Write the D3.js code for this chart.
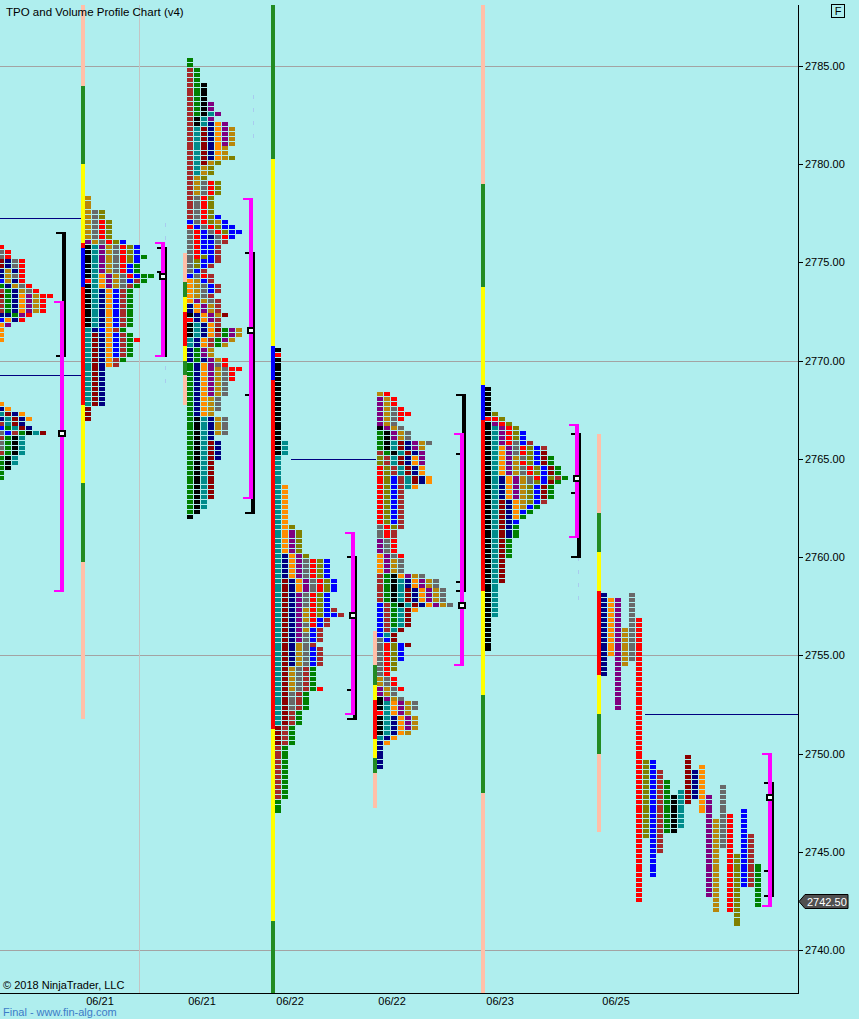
<!DOCTYPE html>
<html><head><meta charset="utf-8">
<script src="https://cdn.jsdelivr.net/npm/d3@7"></script>
<style>
html,body{margin:0;padding:0;background:#AFEEEE;}
svg{display:block;font-family:Arial,"Liberation Sans",sans-serif;}
</style></head>
<body><svg id="chart" width="859" height="1019"></svg>
<script>
// ---------------- DATA ----------------
const priceTicks = [2740, 2745, 2750, 2755, 2760, 2765, 2770, 2775, 2780, 2785];
const gridPrices = [2740, 2755, 2770, 2785];
const dateLabels = ["06/21", "06/21", "06/22", "06/22", "06/23", "06/25"];
// session start, in TPO-column units along the time axis
const sessionStart = [-0.29, 12.14, 26.71, 39.29, 53.86, 69.29, 85.86];
const labelSessions = [1, 2, 3, 4, 5, 6];
const gridTimes = [19.86];

// TPO letters per price row (top price, rows going down by one tick of 0.25)
const profileA = {top: 2775.75, rows: ["r","sr","sr","dnsr","dnsr","nynr","nysr","uynr","gnysr","bgnysr","dgnopyrr","bgnopyr","bgnopyr","bgnopyr","nngpr","uonr","op","o","o","o",
 "","","","","","","","","","","","",
 "o","no","tdno","ntdno","btdn","ugtdn","subgktd","bgkt","sgkt","sgkt","bgkt","gkt","gkt","gk","g","g"]};
const profileB = {top: 2778.25, rows: ["y","y","y","ysv","ysv","ysrv","ysrv","ysrv","ysrv","pysrvu","ktpysrvu","ktpysrvu","ktpysrvug","ktpysrvu","ktpysrug","ktpysrug","ktopysrugg","rtopysubg","ktopysbg",
 "ktnoubg","ktnoubg","ktnoubg","ktnoubg","ktnoubg","ktnoubg","ktnoubg","ktnoubg","tnuobg","tdnoubg","tdnoubgr","tdnoubg","tdnoubg","tdnoubg","tdnobg","tdnob",
 "tdn","tdn","tdn","tdn","tdn","tdn","tdn","tdn","d","d","d"]};
const profileC = {top: 2785.25, rows: ["g","g","bg","bg","bg","bgk","bgk","bgk","bgk","bgkp","bgkp","bgktp","bktp","bktnop","btdnopy","btdnopy","btdnopy","btdnopy","btdnoy","btdnoy","btdnoyv","btdyv","btyv","btyv","byv","bysrv","bysrv","bysrv","bsrv",
 "bsrv","bsrv","bsrv","bsrvu",
 "usrvyu","rusrvuu","srusrvuu","srunsru","sruusb","sruub","sruub","srvub","svuub","svub","sub","usrb","oyub","oysub",
 "oysub","oysb","opysb","nopyb","nopyb","knopyd","rnopb","ktnob","ktnodgpy","ktnobgpy","tnobgpy","tnobgy","ngpy","ngpy","ngnpyr","gnopsr","gnopysrr","gnopysr","gnopysr","gnopys","gnopys","gnopys","gnoys","gnoys","gnoys","gnoy",
 "gktnys","gktnys","gktnys","gktnys","gktn","gktdn","gktdn","gktdn","gktdn","gktd","gktd","gktd","gktd","gktd","gktd","gktd","gktd","gkt","gkt","gk","k"]};
const profileD = {top: 2770.5, rows: ["k","r","k","k","k","k","k","k","k","k","k","k","k","k","k","k","k","k","k","kt","kt","kt","t","t","t","t","t","t",
 "to","to","to","to","to","to","to","to","tov","topv","topv","topv","topv","topv","tnopv",
 "tnopsrvu","tnopsrvu","tnopsrvu","tnopsrvu","tdnopsrvu","tdnopsrvu","tdnopsrvu","tdnpsrvu","tdnpsrvu","tdnpsrvu","tdnpyrvub","tdnpyrvuub","tdnpyrub","tdnpsrub","tdnpyub","tdnpsub","tdnpsub","tdnysb",
 "tdnysub","tdnysub","tdnysub","tdnysub","tdysbg","tdysbg","tdysbg","tdysbg","tdysbgr","tdsbg","tdsbg","tdsbg","tdsbg","tdbg","tdbg","tdbg","dbg","dbg","dbg","dbg",
 "bg","bg","bg","bg","bg","bg","bg","bg","bg","bg","bg","g","g","g"]};
const profileE = {top: 2768.25, rows: ["yr","pyr","pyr","pysr","pysrr","pysr","pys","kpys","gkpys","gkpys","gktdnpys","gktdnpy","bgktdnp","vbtdnop","vbtdnop","rvbtdno","rvbtdno","rvubtdno","rvubtdno","rvubto",
 "rvub","rvub","rvub","rvub","rvub","rvub","rvub","srvb","srb","srb",
 "psr","psr","psr","opsr","opys","opys","opys","bgkopys","bgktnopys","bgktnopys","bgktdnopys","bgktdnopys","bgktdnopys","ubgktdnopys","ubgtdo","ubgtd","ubgtd","ubgtd","ubtd","utd","sud","srvud",
 "srvu","srvu","srvu","srv","srv","sr","ysr","ysr","pysr","pys","kpys","ktopys","ktopys","rtopy","ktnopy","ktnopy","ktnopy","ktnoy","tno","no","n","n","n","n","n"]};
const profileF = {top: 2768.5, rows: ["k","k","k","k","k","kv","rrv","kprv","ktprv","ktprvu","ktprvu","ktprsub","ktopsrvub","ktopsrvud","ktopysvudg","ktopyrvudg","ktopysrvudg","ktopysrvudg","ktnopysruvbg","ktnopysvudg",
 "ktnopyvudg","ktnopyvudg","ktnopyvudg","ktdnoyvub","ktdnoyug","ktdnoug","ktdnog","ktdnu","ktdng","ktdng","ktdng",
 "ktdg","ktdg","ktdg","ktdg","ktd","ktd","ktd","ktd","ktd","kt","kt","kt","kt","kt","kt","kt","k","k","k","k","k","k","k"]};
// last session shown split: one column per period [letter, high, low]
const profileG = [["n",2758,2754],["o",2757.75,2755],["p",2757.75,2752.25],["y",2756.25,2754.5],["s",2758,2754.75],["r",2756.75,2742.5],
 ["v",2749.5,2745.75],["u",2749.5,2743.75],["b",2749,2745],["g",2748.5,2746],["k",2747.75,2746],["t",2748,2746.25],["d",2749.75,2747.5],
 ["n",2749,2747.75],["o",2749.25,2747],["p",2747.75,2742.75],["y",2746.5,2742],["s",2748.25,2745.25],["r",2746.75,2742],["v",2744.75,2741.25],
 ["u",2747,2743.25],["b",2745.75,2743.25],["g",2744.25,2742.25]];

// range bars: [segment kind, high, low]
const rangeB = [["P",2795,2784],["G",2784,2780],["Y",2780,2776],["R",2776,2775.75],["B",2775.75,2773.75],["R",2773.75,2767.75],["Y",2767.75,2763.75],["G",2763.75,2759.75],["P",2759.75,2751.75]];
const rangeC = [["P",2775.5,2774],["G",2774,2773.25],["Y",2773.25,2772.5],["R",2772.5,2770.75],["Y",2770.75,2770],["G",2770,2769.25],["P",2769.25,2767.75]];
const rangeD = [["G",2795,2780.25],["Y",2780.25,2770.75],["B",2770.75,2769],["R",2769,2751.25],["Y",2751.25,2741.5],["G",2741.5,2730]];
const rangeE = [["P",2756.25,2754.5],["G",2754.5,2753.5],["Y",2753.5,2752.75],["R",2752.75,2750.75],["Y",2750.75,2749.75],["G",2749.75,2749],["P",2749,2747.25]];
const rangeF = [["P",2795,2779],["G",2779,2773.75],["Y",2773.75,2768.75],["B",2768.75,2767],["R",2767,2758.25],["Y",2758.25,2753],["G",2753,2748],["P",2748,2730]];
const rangeG = [["P",2766.25,2762.25],["G",2762.25,2760.25],["Y",2760.25,2758.25],["R",2758.25,2754],["Y",2754,2752],["G",2752,2750],["P",2750,2746]];

// value areas: time position, TPO VA high/low/POC, volume VA high/low, marks
const vaTime = [8.57, 23.0, 35.57, 50.14, 65.71, 82.14, 109.71];
const tpoVA = [[2773,2758.25,2766.25],[2776,2770.25,2774.25],[2778.25,2763,2771.5],[2761.25,2752,2757],[2766.25,2754.5,2757.5],[2766.75,2761,2764],[2750,2742.25,2747.75]];
const volVA = [[2776.5,2770.25],[2775.75,2770.25],[2775.5,2762.25],[2760,2751.75],[2768.25,2758.25],[2766.25,2760],[2748.5,2742.75]];
const volMarks = [[],[2774.5],[2768.25],[2753.25],[2765.25,2758.75],[2763.25],[2744]];

// naked POC lines: [price, from, to]
const nakedPOC = [[2777.25,-1,11.57],[2769.25,-1,11.57],[2765,41.57,53.7],[2752,92.14,114]];
// faint volume marks: [time, high, low]
const faintMarks = [[36.14,2783.5,2781],[23.57,2777,2768.75],[82.57,2760,2757.75]];
const lastPrice = 2742.5;

// ---------------- STYLE ----------------
const tpoColors = {b:"#A52A2A", g:"#008000", k:"#000000", p:"#800080", t:"#008B8B", d:"#8B0000", n:"#000080", o:"#FF8C00", y:"#B8860B", v:"#808000", s:"#696969", r:"#FF0000", u:"#0000FF"};
const barColors = {P:"#FFBFA8", G:"#228B22", Y:"#FFFF00", R:"#FF0000", B:"#0000FF"};

const plotL = 0, plotR = 798, plotT = 5, plotB = 993;
const y = d3.scaleLinear().domain([2740, 2785]).range([950, 66]);
const x = d3.scaleLinear().domain([0, 114]).range([0, 798]);
const colW = x(1) - x(0);

const svg = d3.select("#chart");
svg.append("rect").attr("width", 859).attr("height", 1019).attr("fill", "#AFEEEE");
svg.append("defs").append("clipPath").attr("id", "clip").append("rect")
  .attr("x", plotL).attr("y", plotT).attr("width", plotR - plotL).attr("height", plotB - plotT);
const g = svg.append("g").attr("clip-path", "url(#clip)").attr("shape-rendering", "crispEdges");

// gridlines
g.selectAll(".hg").data(gridPrices).join("line")
  .attr("x1", plotL).attr("x2", plotR).attr("y1", d => Math.round(y(d)) + 0.5).attr("y2", d => Math.round(y(d)) + 0.5)
  .attr("stroke", "#A3A3A3").attr("stroke-width", 1);
g.selectAll(".vg").data(gridTimes).join("line")
  .attr("x1", d => Math.round(x(d)) + 0.5).attr("x2", d => Math.round(x(d)) + 0.5).attr("y1", plotT).attr("y2", plotB)
  .attr("stroke", "#C4C4C4").attr("stroke-width", 1);

// naked POCs
g.selectAll(".npoc").data(nakedPOC).join("line")
  .attr("x1", d => x(d[1])).attr("x2", d => x(d[2]))
  .attr("y1", d => Math.round(y(d[0])) + 0.5).attr("y2", d => Math.round(y(d[0])) + 0.5)
  .attr("stroke", "#000080").attr("stroke-width", 1);

// faint marks
g.selectAll(".faint").data(faintMarks).join("line")
  .attr("x1", d => Math.round(x(d[0])) + 0.5).attr("x2", d => Math.round(x(d[0])) + 0.5)
  .attr("y1", d => y(d[1])).attr("y2", d => y(d[2]))
  .attr("stroke", "#A9CBEF").attr("stroke-width", 1.5).attr("stroke-dasharray", "4,9");

// TPO blocks
function cellsFromRows(prof, start) {
  const out = [];
  prof.rows.forEach((str, i) => {
    const p = prof.top - i * 0.25;
    str.split("").forEach((c, j) => out.push({c, p, col: start + j}));
  });
  return out;
}
const packed = [[profileA,0],[profileB,1],[profileC,2],[profileD,3],[profileE,4],[profileF,5]];
let cells = [];
packed.forEach(([prof, si]) => { cells = cells.concat(cellsFromRows(prof, sessionStart[si])); });
profileG.forEach((per, j) => {
  for (let p = per[1]; p >= per[2] - 1e-9; p -= 0.25) cells.push({c: per[0], p, col: sessionStart[6] + j});
});
g.selectAll(".tpo").data(cells).join("rect")
  .attr("x", d => Math.round(x(d.col))).attr("y", d => Math.round(y(d.p) - 3))
  .attr("width", Math.round(colW) - 1).attr("height", 4)
  .attr("fill", d => tpoColors[d.c]);

// range bars
const ranges = [[rangeB,1],[rangeC,2],[rangeD,3],[rangeE,4],[rangeF,5],[rangeG,6]];
ranges.forEach(([segs, si]) => {
  const x0 = Math.round(x(sessionStart[si]));
  g.selectAll(null).data(segs).join("rect")
    .attr("x", x0 - 4).attr("width", 4)
    .attr("y", d => Math.round(y(d[1]))).attr("height", d => Math.max(1, Math.round(y(d[2])) - Math.round(y(d[1]))))
    .attr("fill", d => barColors[d[0]]);
});

// volume value area (black) under TPO value area (magenta)
vaTime.forEach((t, i) => {
  const mx = Math.round(x(t));
  const [vh, vl] = volVA[i];
  const yh = Math.round(y(vh)), yl = Math.round(y(vl));
  g.append("rect").attr("x", mx + 2).attr("y", yh - 1).attr("width", 4).attr("height", yl - yh + 2).attr("fill", "#000");
  g.append("rect").attr("x", mx - 4).attr("y", yh - 1).attr("width", 10).attr("height", 2).attr("fill", "#000");
  g.append("rect").attr("x", mx - 4).attr("y", yl - 1).attr("width", 10).attr("height", 2).attr("fill", "#000");
  volMarks[i].forEach(m => {
    g.append("rect").attr("x", mx - 4).attr("y", Math.round(y(m)) - 1).attr("width", 6).attr("height", 2).attr("fill", "#000");
  });
});
vaTime.forEach((t, i) => {
  const mx = Math.round(x(t));
  const [th, tl, poc] = tpoVA[i];
  const yh = Math.round(y(th)), yl = Math.round(y(tl));
  g.append("rect").attr("x", mx).attr("y", yh - 1).attr("width", 4).attr("height", yl - yh + 2).attr("fill", "#FF00FF");
  g.append("rect").attr("x", mx - 6).attr("y", yh - 1).attr("width", 10).attr("height", 2).attr("fill", "#FF00FF");
  g.append("rect").attr("x", mx - 6).attr("y", yl - 1).attr("width", 10).attr("height", 2).attr("fill", "#FF00FF");
  const yp = Math.round(y(poc));
  g.append("rect").attr("x", mx - 1).attr("y", yp - 3).attr("width", 6).attr("height", 5)
    .attr("fill", "#F4FFFF").attr("stroke", "#000").attr("stroke-width", 2);
});

// axes
const axisG = svg.append("g").attr("shape-rendering", "crispEdges");
axisG.append("line").attr("x1", plotR + 0.5).attr("x2", plotR + 0.5).attr("y1", plotT).attr("y2", plotB).attr("stroke", "#000");
axisG.append("line").attr("x1", plotL).attr("x2", plotR + 1).attr("y1", plotB + 0.5).attr("y2", plotB + 0.5).attr("stroke", "#000");
axisG.selectAll(".yt").data(priceTicks).join("line")
  .attr("x1", plotR).attr("x2", plotR + 5).attr("y1", d => Math.round(y(d)) + 0.5).attr("y2", d => Math.round(y(d)) + 0.5).attr("stroke", "#000");
svg.selectAll(".yl").data(priceTicks).join("text")
  .attr("x", plotR + 7).attr("y", d => y(d) + 4).attr("font-size", 11).attr("fill", "#000")
  .text(d => d3.format(".2f")(d));
svg.selectAll(".xl").data(dateLabels).join("text")
  .attr("x", (d, i) => x(sessionStart[labelSessions[i]] + 2.15)).attr("y", 1005)
  .attr("text-anchor", "middle").attr("font-size", 11).attr("fill", "#000").text(d => d);

// last price tag
const ly = Math.round(y(lastPrice)) + 0.5;
svg.append("path").attr("d", `M${plotR + 1},${ly} L${plotR + 7},${ly - 7} L${plotR + 50},${ly - 7} L${plotR + 50},${ly + 7} L${plotR + 7},${ly + 7} Z`)
  .attr("fill", "#505050").attr("stroke", "#000");
svg.append("text").attr("x", plotR + 9).attr("y", ly + 4).attr("font-size", 11).attr("fill", "#fff").text(d3.format(".2f")(lastPrice));

// texts
svg.append("text").attr("x", 6).attr("y", 16).attr("font-size", 11.5).attr("fill", "#000").text("TPO and Volume Profile Chart (v4)");
svg.append("text").attr("x", 3).attr("y", 989).attr("font-size", 11).attr("fill", "#000").text("© 2018 NinjaTrader, LLC");
svg.append("text").attr("x", 3).attr("y", 1016).attr("font-size", 11).attr("fill", "#3C7CC8").text("Final - www.fin-alg.com");
svg.append("rect").attr("x", 831.5).attr("y", 4.5).attr("width", 13).attr("height", 13).attr("fill", "none").attr("stroke", "#000");
svg.append("text").attr("x", 838).attr("y", 15).attr("text-anchor", "middle").attr("font-size", 11).attr("fill", "#000").text("F");
</script></body></html>
